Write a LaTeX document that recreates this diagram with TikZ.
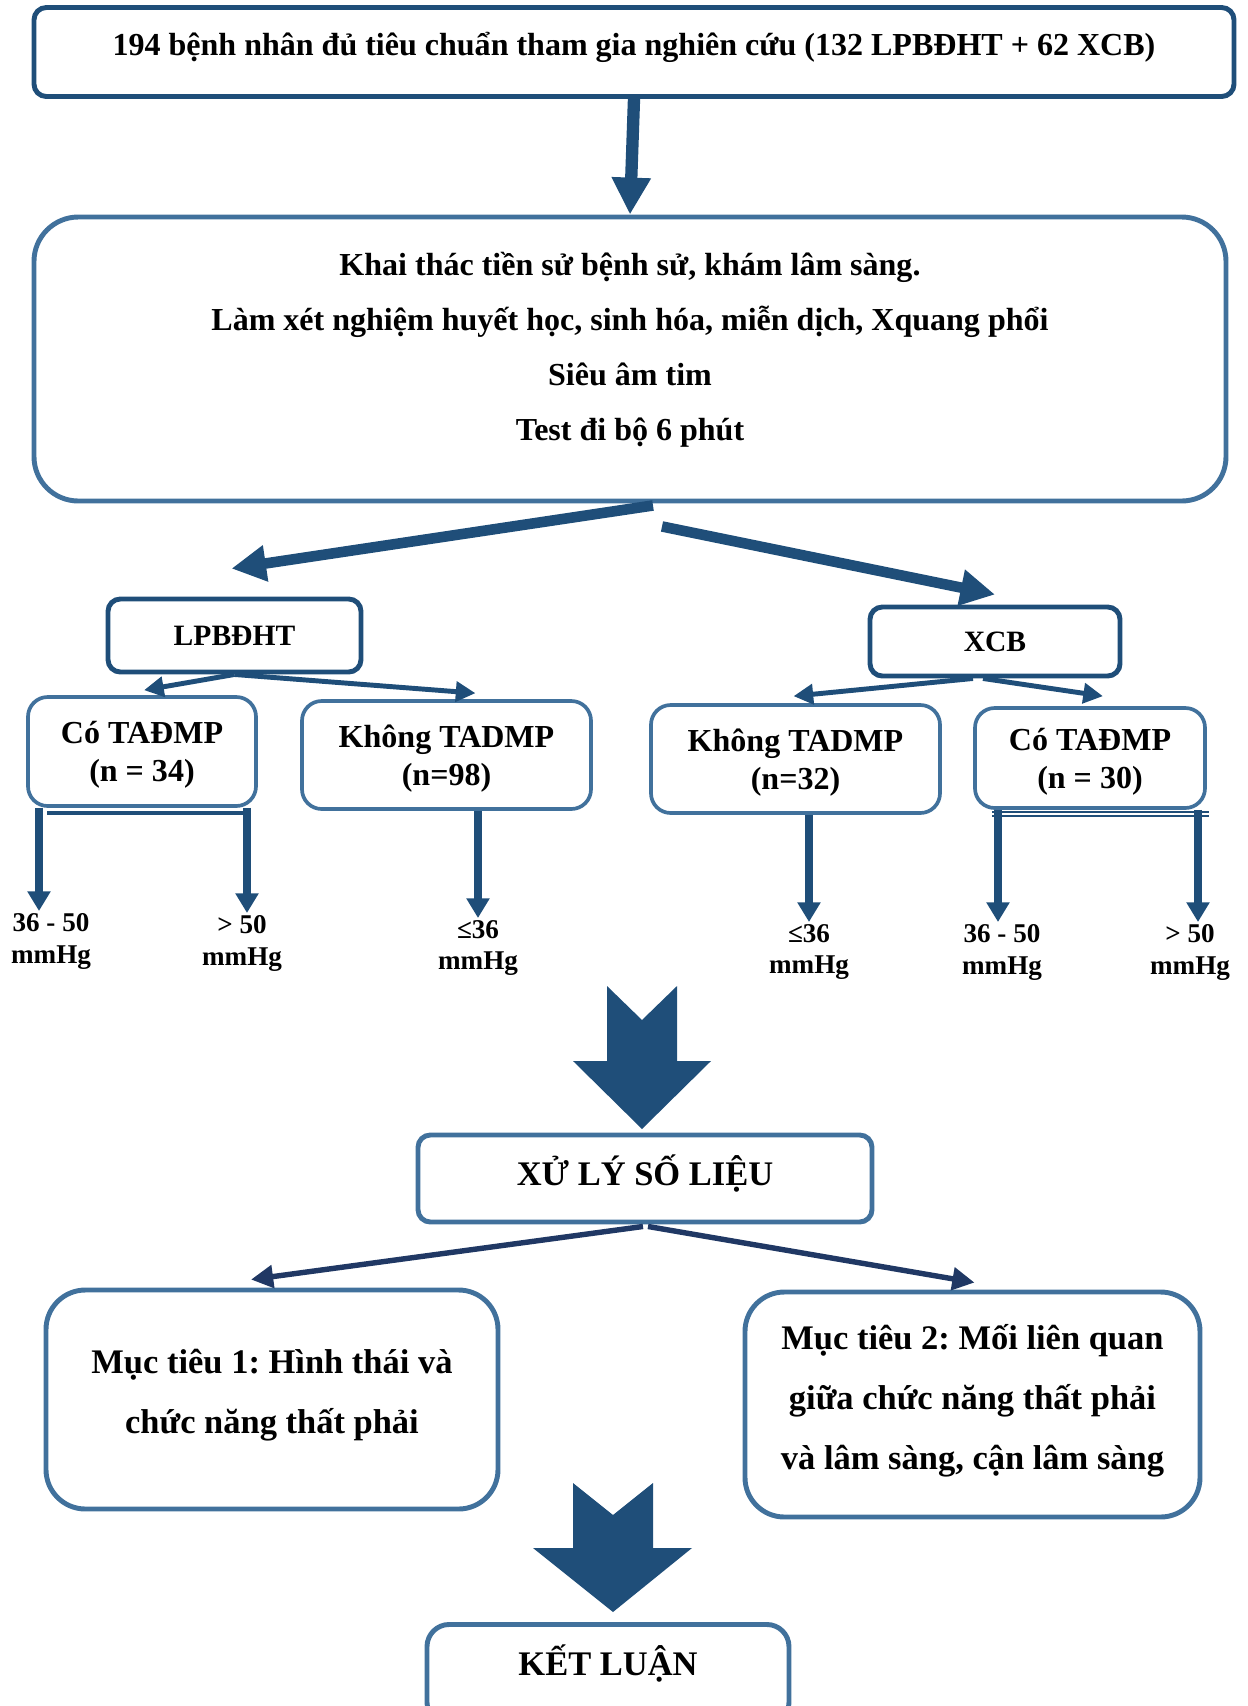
\documentclass[tikz,border=0pt]{standalone}
\usepackage{fontspec}
\setmainfont{Liberation Serif}
\usetikzlibrary{arrows.meta,calc}
\frenchspacing

\definecolor{navy}{HTML}{1F4E79}
\definecolor{steel}{HTML}{41719C}
\definecolor{ink}{HTML}{203864}
\newcommand{\pxu}{0.406pt}

\begin{document}
\begin{tikzpicture}[x=0.406pt, y=-0.406pt,
    darkbox/.style={draw=navy, line width=2pt, rounded corners=5pt, align=center},
    bluebox/.style={draw=steel, line width=2pt, align=center},
    groupbox/.style={draw=steel, line width=1.5pt, rounded corners=8pt, align=center,
        text depth=-3pt, font=\fontsize{13}{15.4}\selectfont\bfseries},
    lbl/.style={align=center, inner sep=1pt, anchor=north,
        font=\fontsize{11}{12.6}\selectfont\bfseries},
    thickarrow/.style={navy, line width=5pt, -{Triangle[length=15pt,width=15pt]}},
    bigarrow/.style={navy, line width=4.3pt, -{Triangle[length=14pt,width=14pt]}},
    smallarrow/.style={navy, line width=2pt, -{Triangle[length=8pt,width=8pt]}},
    varrow/.style={navy, line width=3pt, -{Triangle[length=8pt,width=9pt]}},
    inkarrow/.style={ink, line width=2.2pt, -{Triangle[length=9pt,width=9pt]}},
    bar/.style={navy, line width=1.8pt}
  ]
    \useasboundingbox (0,0) rectangle (1247,1706);
    \clip (0,0) rectangle (1247,1706);

    % study population and work-up
    \node[darkbox, minimum width=1200*\pxu, minimum height=89*\pxu, text depth=7pt,
        font=\fontsize{13}{16}\selectfont\bfseries] (top) at (634,52)
        {194 bệnh nhân đủ tiêu chuẩn tham gia nghiên cứu (132 LPBĐHT + 62 XCB)};
    \node[bluebox, rounded corners=18pt, minimum width=1192*\pxu, minimum height=284*\pxu,
        text depth=10.2pt, font=\fontsize{13}{22.4}\selectfont\bfseries] (kt) at (630,359)
        {Khai thác tiền sử bệnh sử, khám lâm sàng.\\
         Làm xét nghiệm huyết học, sinh hóa, miễn dịch, Xquang phổi\\
         Siêu âm tim\\
         Test đi bộ 6 phút};
    \draw[thickarrow] (top.south) -- (kt.north);

    % two groups
    \node[darkbox, minimum width=253*\pxu, minimum height=73*\pxu,
        font=\fontsize{12}{14}\selectfont\bfseries] (lp) at (234.5,635.5) {LPBĐHT};
    \node[darkbox, minimum width=250*\pxu, minimum height=69*\pxu,
        font=\fontsize{12}{14}\selectfont\bfseries] (xcb) at (995,641.5) {XCB};
    \draw[bigarrow] ($(kt.south)+(23,2)$) -- ($(lp.north)+(-3,-28)$);
    \draw[bigarrow] ($(kt.south)+(32,23)$) -- ($(xcb.north)+(0,-10)$);

    % subgroups
    \node[groupbox, minimum width=228*\pxu, minimum height=109*\pxu] (c1) at (142,751.5) {Có TAĐMP\\(n = 34)};
    \node[groupbox, minimum width=289*\pxu, minimum height=108*\pxu] (k1) at (446.5,755) {Không TADMP\\(n=98)};
    \node[groupbox, minimum width=289*\pxu, minimum height=108*\pxu] (k2) at (795.5,759) {Không TADMP\\(n=32)};
    \node[groupbox, minimum width=230*\pxu, minimum height=100*\pxu] (c2) at (1090,758) {Có TAĐMP\\(n = 30)};
    \draw[smallarrow] (lp.south) -- ($(c1.north)+(2,-5)$);
    \draw[smallarrow] (lp.south) -- ($(k1.north)+(29,-6)$);
    \draw[smallarrow] ($(xcb.south)+(-22,0)$) -- ($(k2.north)+(-2,-7)$);
    \draw[smallarrow] ($(xcb.south)+(-12,0)$) -- ($(c2.north)+(13,-10)$);

    % pressure classes
    \node[lbl] (l1) at (51,911) {36 - 50\\mmHg};
    \node[lbl] (l2) at (242,913) {> 50\\mmHg};
    \node[lbl] (l3) at (478,918) {≤36\\mmHg};
    \node[lbl] (l4) at (809,922) {≤36\\mmHg};
    \node[lbl] (l5) at (1002,922) {36 - 50\\mmHg};
    \node[lbl] (l6) at (1190,922) {> 50\\mmHg};
    \draw[bar] (47,813) -- (250,813);
    \draw[navy, line width=0.9pt, double=white, double distance=0.7pt] (992,814) -- (1209,814);
    \draw[varrow] (c1.south -| 39,0) -- (l1.north -| 39,0);
    \draw[varrow] (c1.south -| 247,0) -- (l2.north -| 247,0);
    \draw[varrow] (k1.south -| l3.north) -- (l3.north);
    \draw[varrow] (k2.south -| l4.north) -- (l4.north);
    \draw[varrow] (c2.south -| 998,0) -- (l5.north -| 998,0);
    \draw[varrow] (c2.south -| 1198,0) -- (l6.north -| 1198,0);

    % data processing and aims
    \fill[navy] (607,986) -- (642,1020) -- (677,986) -- (677,1061) -- (711,1061)
        -- (642,1129) -- (573,1061) -- (607,1061) -- cycle;
    \node[bluebox, rounded corners=5pt, minimum width=454*\pxu, minimum height=87*\pxu,
        text depth=7pt, font=\fontsize{14}{17}\selectfont\bfseries] (xl) at (645,1178.5) {XỬ LÝ SỐ LIỆU};
    \node[bluebox, rounded corners=16pt, minimum width=452*\pxu, minimum height=219*\pxu,
        text depth=6.7pt, font=\fontsize{14}{24.4}\selectfont\bfseries] (m1) at (272,1399.5)
        {Mục tiêu 1: Hình thái và\\chức năng thất phải};
    \node[bluebox, rounded corners=16pt, minimum width=455*\pxu, minimum height=225*\pxu,
        text depth=6.1pt, font=\fontsize{14}{24.4}\selectfont\bfseries] (m2) at (972.5,1404.5)
        {Mục tiêu 2: Mối liên quan\\giữa chức năng thất phải\\và lâm sàng, cận lâm sàng};
    \draw[inkarrow] ($(xl.south)+(-2,2)$) -- ($(m1.north)+(-21,-8)$);
    \draw[inkarrow] ($(xl.south)+(3,2)$) -- ($(m2.north)+(2,-7)$);

    % conclusion
    \fill[navy] (573,1483) -- (613,1515) -- (653,1483) -- (653,1548) -- (692,1548)
        -- (613,1612) -- (533,1548) -- (573,1548) -- cycle;
    \node[bluebox, rounded corners=9pt, anchor=north, minimum width=362*\pxu, minimum height=100*\pxu,
        text height=12pt, text depth=10.8pt, font=\fontsize{14}{17}\selectfont\bfseries] (kl) at (608,1622) {KẾT LUẬN};
\end{tikzpicture}
\end{document}
